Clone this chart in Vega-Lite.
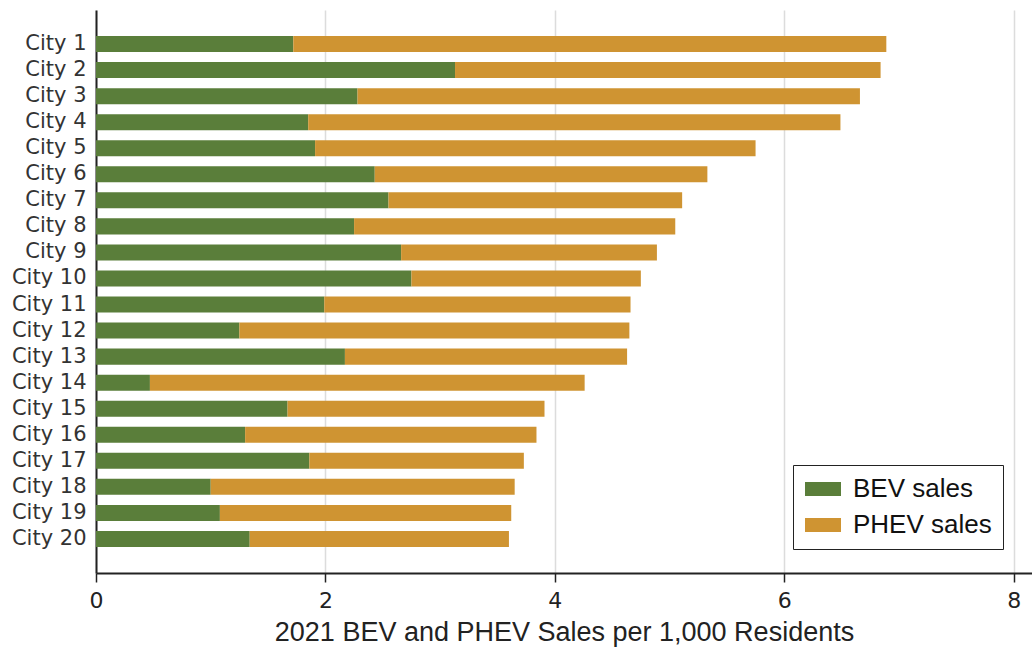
{
  "$schema": "https://vega.github.io/schema/vega-lite/v6.json",
  "width": 936,
  "height": 563,
  "autosize": "none",
  "padding": {"left": 96, "top": 10, "right": 0, "bottom": 81},
  "background": "white",
  "config": {"view": {"stroke": null}},
  "data": {
    "values": [
      {"city": "City 1", "type": "BEV sales", "value": 1.72},
      {"city": "City 1", "type": "PHEV sales", "value": 5.17},
      {"city": "City 2", "type": "BEV sales", "value": 3.13},
      {"city": "City 2", "type": "PHEV sales", "value": 3.71},
      {"city": "City 3", "type": "BEV sales", "value": 2.28},
      {"city": "City 3", "type": "PHEV sales", "value": 4.38},
      {"city": "City 4", "type": "BEV sales", "value": 1.85},
      {"city": "City 4", "type": "PHEV sales", "value": 4.64},
      {"city": "City 5", "type": "BEV sales", "value": 1.91},
      {"city": "City 5", "type": "PHEV sales", "value": 3.84},
      {"city": "City 6", "type": "BEV sales", "value": 2.43},
      {"city": "City 6", "type": "PHEV sales", "value": 2.90},
      {"city": "City 7", "type": "BEV sales", "value": 2.55},
      {"city": "City 7", "type": "PHEV sales", "value": 2.56},
      {"city": "City 8", "type": "BEV sales", "value": 2.25},
      {"city": "City 8", "type": "PHEV sales", "value": 2.80},
      {"city": "City 9", "type": "BEV sales", "value": 2.66},
      {"city": "City 9", "type": "PHEV sales", "value": 2.23},
      {"city": "City 10", "type": "BEV sales", "value": 2.75},
      {"city": "City 10", "type": "PHEV sales", "value": 2.00},
      {"city": "City 11", "type": "BEV sales", "value": 1.99},
      {"city": "City 11", "type": "PHEV sales", "value": 2.67},
      {"city": "City 12", "type": "BEV sales", "value": 1.25},
      {"city": "City 12", "type": "PHEV sales", "value": 3.40},
      {"city": "City 13", "type": "BEV sales", "value": 2.17},
      {"city": "City 13", "type": "PHEV sales", "value": 2.46},
      {"city": "City 14", "type": "BEV sales", "value": 0.47},
      {"city": "City 14", "type": "PHEV sales", "value": 3.79},
      {"city": "City 15", "type": "BEV sales", "value": 1.67},
      {"city": "City 15", "type": "PHEV sales", "value": 2.24},
      {"city": "City 16", "type": "BEV sales", "value": 1.30},
      {"city": "City 16", "type": "PHEV sales", "value": 2.54},
      {"city": "City 17", "type": "BEV sales", "value": 1.86},
      {"city": "City 17", "type": "PHEV sales", "value": 1.87},
      {"city": "City 18", "type": "BEV sales", "value": 1.00},
      {"city": "City 18", "type": "PHEV sales", "value": 2.65},
      {"city": "City 19", "type": "BEV sales", "value": 1.08},
      {"city": "City 19", "type": "PHEV sales", "value": 2.54},
      {"city": "City 20", "type": "BEV sales", "value": 1.34},
      {"city": "City 20", "type": "PHEV sales", "value": 2.26}
    ]
  },
  "mark": {"type": "bar"},
  "encoding": {
    "y": {
      "field": "city",
      "type": "nominal",
      "sort": null,
      "scale": {"paddingInner": 0.385, "paddingOuter": 1.04},
      "axis": {
        "title": null,
        "ticks": false,
        "domainColor": "#222222",
        "domainWidth": 2,
        "labelFont": "DejaVu Sans",
        "labelFontSize": 21,
        "labelColor": "#333333",
        "labelPadding": 10,
        "grid": false
      }
    },
    "x": {
      "field": "value",
      "type": "quantitative",
      "stack": "zero",
      "scale": {"domain": [0, 8.16], "nice": false, "zero": true},
      "axis": {
        "title": "2021 BEV and PHEV Sales per 1,000 Residents",
        "values": [0, 2, 4, 6, 8],
        "format": "d",
        "grid": true,
        "gridColor": "#dcdcdc",
        "gridWidth": 1.5,
        "domainColor": "#222222",
        "domainWidth": 2,
        "tickColor": "#222222",
        "tickWidth": 1.5,
        "tickSize": 9,
        "labelFont": "DejaVu Sans",
        "labelFontSize": 22,
        "labelColor": "#222222",
        "labelPadding": 8,
        "labelFlush": false,
        "titleFont": "Liberation Sans",
        "titleFontSize": 27,
        "titleFontWeight": "normal",
        "titleColor": "#222222",
        "titlePadding": 8
      }
    },
    "color": {
      "field": "type",
      "type": "nominal",
      "scale": {"domain": ["BEV sales", "PHEV sales"], "range": ["#5a7e3a", "#cf9432"]},
      "legend": {
        "title": null,
        "orient": "none",
        "legendX": 697,
        "legendY": 455,
        "strokeColor": "#222222",
        "fillColor": "white",
        "padding": 11,
        "symbolType": "M-1,-0.58H2V0.58H-1Z",
        "symbolSize": 576,
        "symbolStrokeWidth": 0,
        "symbolOpacity": 1,
        "labelFont": "Liberation Sans",
        "labelFontSize": 26,
        "labelColor": "#111111",
        "labelOffset": 23,
        "rowPadding": 10,
        "labelLimit": 300
      }
    }
  }
}
